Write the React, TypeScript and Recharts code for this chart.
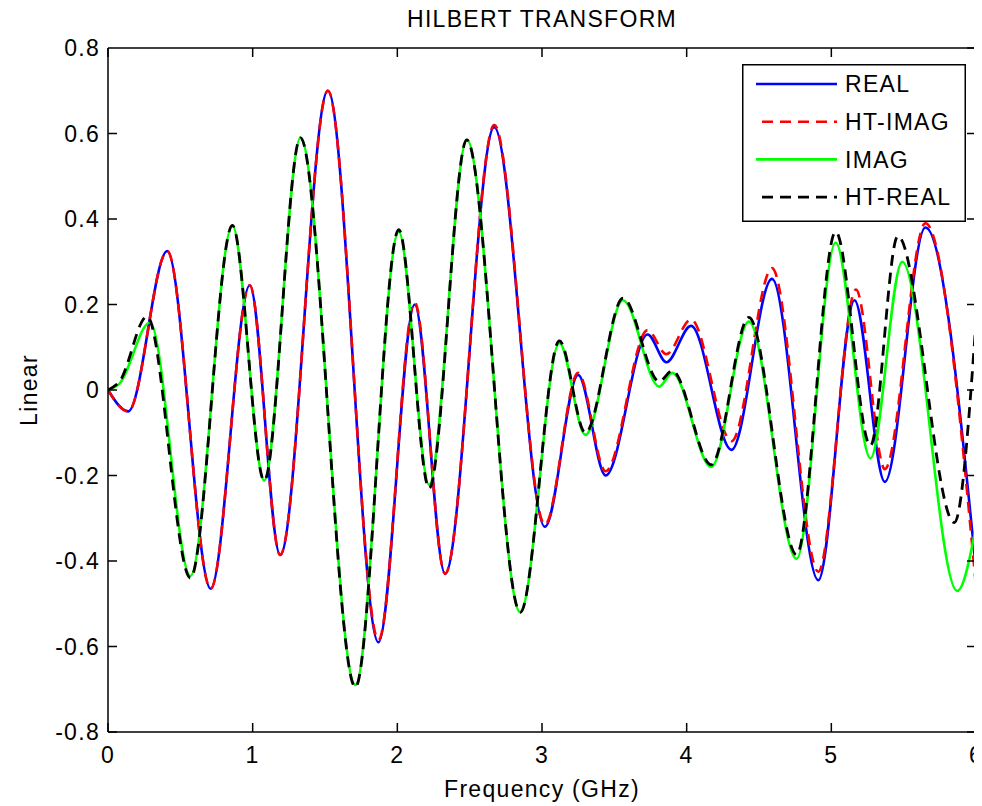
import React from 'react';
import { LineChart, Line, XAxis, YAxis, Legend } from 'recharts';

// frequency (GHz) / amplitude pairs for each trace
const realFreq = [0, 0.14, 0.41, 0.71, 0.98, 1.19, 1.52, 1.87, 2.12, 2.33, 2.67, 3.02, 3.25, 3.44, 3.73, 3.86, 4.03, 4.31, 4.59, 4.91, 5.16, 5.37, 5.65, 6.0];
const realVals = [0, -0.05, 0.325, -0.465, 0.245, -0.386, 0.7, -0.59, 0.2, -0.43, 0.615, -0.32, 0.035, -0.2, 0.13, 0.065, 0.15, -0.14, 0.26, -0.445, 0.21, -0.215, 0.38, -0.42];

const htImagFreq = [0, 0.14, 0.41, 0.71, 0.98, 1.19, 1.52, 1.87, 2.12, 2.33, 2.67, 3.02, 3.25, 3.44, 3.73, 3.86, 4.03, 4.31, 4.59, 4.91, 5.17, 5.37, 5.65, 6.0];
const htImagVals = [0, -0.05, 0.325, -0.465, 0.245, -0.386, 0.7, -0.585, 0.205, -0.43, 0.62, -0.315, 0.04, -0.19, 0.14, 0.084, 0.165, -0.12, 0.285, -0.425, 0.235, -0.185, 0.39, -0.46];

const imagFreq = [0, 0.08, 0.29, 0.57, 0.86, 1.08, 1.33, 1.71, 2.01, 2.22, 2.48, 2.85, 3.12, 3.3, 3.56, 3.81, 3.9, 4.17, 4.43, 4.76, 5.03, 5.27, 5.49, 5.87, 6.0];
const imagVals = [0, 0.015, 0.158, -0.435, 0.385, -0.212, 0.59, -0.69, 0.37, -0.222, 0.585, -0.52, 0.11, -0.105, 0.21, 0.008, 0.04, -0.18, 0.16, -0.395, 0.345, -0.16, 0.3, -0.47, -0.32];

const htRealFreq = [0, 0.08, 0.27, 0.57, 0.86, 1.08, 1.33, 1.71, 2.01, 2.22, 2.48, 2.85, 3.12, 3.3, 3.56, 3.81, 3.9, 4.17, 4.43, 4.76, 5.03, 5.27, 5.46, 5.85, 6.0];
const htRealVals = [0, 0.02, 0.172, -0.44, 0.385, -0.212, 0.59, -0.695, 0.375, -0.23, 0.585, -0.52, 0.115, -0.1, 0.215, 0.02, 0.045, -0.175, 0.17, -0.385, 0.37, -0.13, 0.36, -0.31, 0.16];

const xTicks = [0, 1, 2, 3, 4, 5, 6];
const yTicks = [-0.8, -0.6, -0.4, -0.2, 0, 0.2, 0.4, 0.6, 0.8];

const toPoints = (fs: number[], vs: number[]) => fs.map((f, i) => ({ f, v: vs[i] }));

const series = [
  { name: 'REAL', color: '#0000ff', dash: undefined as string | undefined, width: 2.6, data: toPoints(realFreq, realVals) },
  { name: 'HT-IMAG', color: '#ff0000', dash: '11 7', width: 2.6, data: toPoints(htImagFreq, htImagVals) },
  { name: 'IMAG', color: '#00ff00', dash: undefined, width: 2.6, data: toPoints(imagFreq, imagVals) },
  { name: 'HT-REAL', color: '#000000', dash: '11 7', width: 2.8, data: toPoints(htRealFreq, htRealVals) },
];

const FONT = '"Liberation Sans", Arial, sans-serif';
const FS = 23;
const LS = 1.3;
const TICK_LEN = 9;
const CHART_W = 982;
const CHART_H = 806;
const MARGIN = { top: 48, right: 5, bottom: 0, left: 0 };
const X_AXIS_H = 74;
const Y_AXIS_W = 108;
const PLOT_H = CHART_H - MARGIN.top - X_AXIS_H;
const PLOT_W = CHART_W - Y_AXIS_W - MARGIN.right - 1;

const fmtY = (v: number) => (v === 0 ? '0' : v.toFixed(1));

// bottom tick with label, plus the matching inward tick on the top edge of the box
const BottomTick = (props: any) => {
  const { x, y, payload } = props;
  return (
    <g>
      <line x1={x} x2={x} y1={y} y2={y - TICK_LEN} stroke="#000" strokeWidth={1.5} />
      <line x1={x} x2={x} y1={y - PLOT_H} y2={y - PLOT_H + TICK_LEN} stroke="#000" strokeWidth={1.5} />
      <text x={x} y={y + 31} textAnchor="middle" fontFamily={FONT} fontSize={FS} letterSpacing={LS} fill="#000">
        {payload.value}
      </text>
    </g>
  );
};

// left tick with label; the top tick also carries the top edge of the box
const LeftTick = (props: any) => {
  const { x, y, payload } = props;
  const isTop = payload.value === yTicks[yTicks.length - 1];
  return (
    <g>
      <line x1={x} x2={isTop ? x + PLOT_W : x + TICK_LEN} y1={y} y2={y} stroke="#000" strokeWidth={1.5} />
      <text x={x - 8} y={y} dy="0.36em" textAnchor="end" fontFamily={FONT} fontSize={FS} letterSpacing={LS} fill="#000">
        {fmtY(payload.value)}
      </text>
    </g>
  );
};

const RightTick = (props: any) => {
  const { x, y } = props;
  return <line x1={x} x2={x - TICK_LEN} y1={y} y2={y} stroke="#000" strokeWidth={1.5} />;
};

const YTitle = (props: any) => {
  const { viewBox } = props;
  const cx = viewBox.x + 37;
  const cy = viewBox.y + viewBox.height / 2;
  return (
    <text x={cx} y={cy} transform={`rotate(-90 ${cx} ${cy})`} textAnchor="middle" fontFamily={FONT} fontSize={FS} letterSpacing={LS} fill="#000">
      Linear
    </text>
  );
};

const LegendBox = () => (
  <svg width={224} height={158} style={{ display: 'block' }}>
    <rect x={0.75} y={0.75} width={222.5} height={156.5} fill="#fff" stroke="#000" strokeWidth={1.5} />
    {series.map((s, i) => {
      const cy = 20 + i * 37.7;
      return (
        <g key={s.name}>
          <line x1={14} x2={95} y1={cy} y2={cy} stroke={s.color} strokeWidth={s.width} strokeDasharray={s.dash} strokeDashoffset={s.dash ? -6 : 0} />
          <text x={103} y={cy} dy="0.36em" fontFamily={FONT} fontSize={FS} letterSpacing={LS} fill="#000">
            {s.name}
          </text>
        </g>
      );
    })}
  </svg>
);

export default function App() {
  return (
    <div style={{ position: 'relative', width: CHART_W, height: CHART_H, marginLeft: -8, marginTop: -8, background: '#fff' }}>
      <LineChart width={CHART_W} height={CHART_H} margin={MARGIN}>
        <XAxis
          dataKey="f"
          type="number"
          domain={[0, 6]}
          ticks={xTicks}
          allowDataOverflow
          height={X_AXIS_H}
          axisLine={{ stroke: '#000', strokeWidth: 1.5 }}
          tickLine={false}
          tickSize={0}
          tickMargin={0}
          tick={<BottomTick />}
          label={{ value: 'Frequency (GHz)', position: 'insideBottom', offset: 9, fontFamily: FONT, fontSize: FS, letterSpacing: LS, fill: '#000' }}
        />
        <YAxis
          type="number"
          domain={[-0.8, 0.8]}
          ticks={yTicks}
          allowDataOverflow
          width={Y_AXIS_W}
          axisLine={{ stroke: '#000', strokeWidth: 1.5 }}
          tickLine={false}
          tickSize={0}
          tickMargin={0}
          tick={<LeftTick />}
          label={<YTitle />}
        />
        <YAxis
          yAxisId="right"
          orientation="right"
          type="number"
          domain={[-0.8, 0.8]}
          ticks={yTicks}
          allowDataOverflow
          width={1}
          axisLine={{ stroke: '#000', strokeWidth: 1.5 }}
          tickLine={false}
          tickSize={0}
          tickMargin={0}
          tick={<RightTick />}
        />
        <Legend
          layout="vertical"
          align="center"
          verticalAlign="middle"
          content={<LegendBox />}
          wrapperStyle={{ position: 'absolute', left: 742, top: 64, width: 224, height: 158 }}
        />
        {/* unstroked copy of REAL that binds the right box axis */}
        <Line
          yAxisId="right"
          data={series[0].data}
          dataKey="v"
          stroke="none"
          legendType="none"
          dot={false}
          activeDot={false}
          isAnimationActive={false}
        />
        {series.map((s) => (
          <Line
            key={s.name}
            name={s.name}
            data={s.data}
            dataKey="v"
            type="monotone"
            stroke={s.color}
            strokeWidth={s.width}
            strokeDasharray={s.dash}
            dot={false}
            activeDot={false}
            isAnimationActive={false}
          />
        ))}
      </LineChart>
      <div
        style={{
          position: 'absolute',
          left: 108,
          width: 868,
          top: 6,
          textAlign: 'center',
          fontFamily: FONT,
          fontSize: FS,
          letterSpacing: LS,
          lineHeight: '26px',
          color: '#000',
          pointerEvents: 'none',
        }}
      >
        HILBERT TRANSFORM
      </div>
    </div>
  );
}
